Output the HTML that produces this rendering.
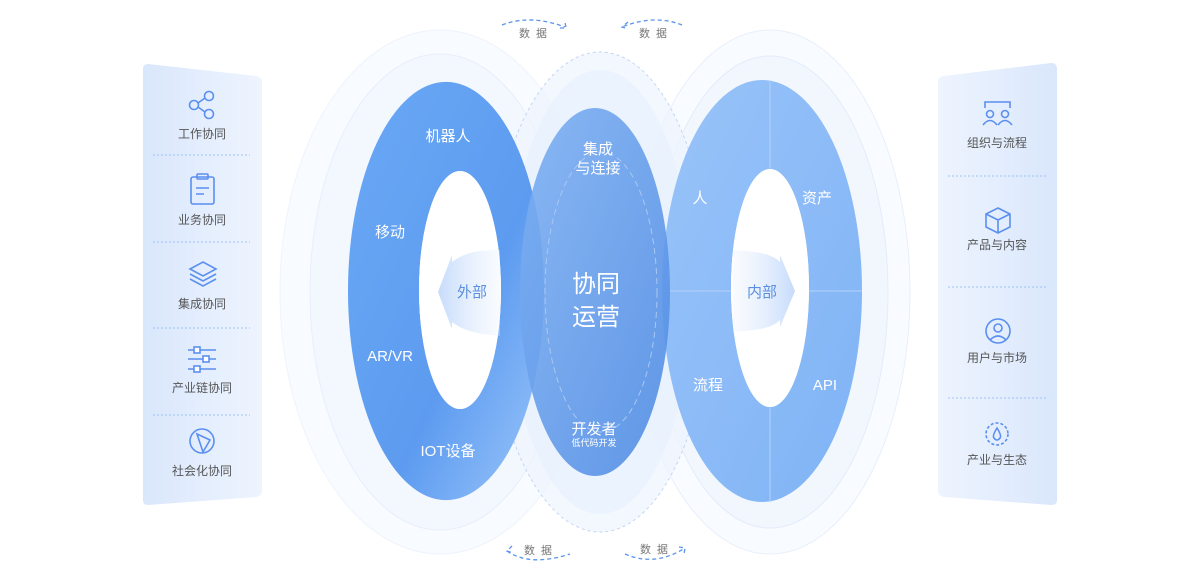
<!DOCTYPE html>
<html><head><meta charset="utf-8"><style>
html,body{margin:0;padding:0;background:#fff;width:1200px;height:577px;overflow:hidden}
svg{display:block}
text{font-family:"Liberation Sans","Noto Sans CJK SC",sans-serif}
</style></head><body>
<svg width="1200" height="577" viewBox="0 0 1200 577" xmlns="http://www.w3.org/2000/svg">
<defs>
<linearGradient id="pl" x1="0" y1="0" x2="1" y2="0"><stop offset="0" stop-color="#d9e7fc"/><stop offset="1" stop-color="#eef4fe"/></linearGradient>
<linearGradient id="pr" x1="0" y1="0" x2="1" y2="0"><stop offset="0" stop-color="#eef4fe"/><stop offset="1" stop-color="#d9e7fc"/></linearGradient>
<linearGradient id="lr" x1="0" y1="0" x2="1" y2="1"><stop offset="0" stop-color="#6aa8f5"/><stop offset="0.6" stop-color="#5d9bf0"/><stop offset="1" stop-color="#9cc7fa"/></linearGradient>
<linearGradient id="rr" x1="0" y1="0" x2="1" y2="1"><stop offset="0" stop-color="#99c3f9"/><stop offset="1" stop-color="#7fb3f5"/></linearGradient>
<linearGradient id="cc" x1="0" y1="0" x2="1" y2="1"><stop offset="0" stop-color="#7fb1f2"/><stop offset="1" stop-color="#4f8be3"/></linearGradient>
<linearGradient id="arL" x1="0" y1="0" x2="1" y2="0"><stop offset="0" stop-color="#c6dbfb"/><stop offset="1" stop-color="#eaf2fe" stop-opacity="0.3"/></linearGradient>
<linearGradient id="arR" x1="0" y1="0" x2="1" y2="0"><stop offset="0" stop-color="#eaf2fe" stop-opacity="0.3"/><stop offset="1" stop-color="#c6dbfb"/></linearGradient>
</defs>
<!-- halos -->
<ellipse cx="440" cy="292" rx="160" ry="262" fill="#f8fbff" stroke="#eef3fc"/>
<ellipse cx="440" cy="292" rx="130" ry="238" fill="#f3f7fe" stroke="#e8effb"/>
<ellipse cx="770" cy="292" rx="140" ry="262" fill="#f8fbff" stroke="#e8effb"/>
<ellipse cx="770" cy="292" rx="118" ry="236" fill="#f2f7fe" stroke="#e4ecfa"/>
<ellipse cx="600" cy="292" rx="110" ry="240" fill="#eef4fe" fill-opacity="0.7" stroke="#c3d6f5" stroke-dasharray="3 3"/>
<ellipse cx="600" cy="292" rx="92" ry="222" fill="#e9f1fe" fill-opacity="0.8"/>
<!-- left ring -->
<path fill-rule="evenodd" fill="url(#lr)" d="M348,291 a98,209 0 1,0 196,0 a98,209 0 1,0 -196,0 Z M419,290 a41,119 0 1,1 82,0 a41,119 0 1,1 -82,0 Z"/>
<ellipse cx="460" cy="290" rx="41" ry="119" fill="#fff"/>
<!-- right ring -->
<path fill-rule="evenodd" fill="url(#rr)" d="M662,291 a100,211 0 1,0 200,0 a100,211 0 1,0 -200,0 Z M731,288 a39,119 0 1,1 78,0 a39,119 0 1,1 -78,0 Z"/>
<ellipse cx="770" cy="288" rx="39" ry="119" fill="#fff"/>
<line x1="770" y1="80" x2="770" y2="169" stroke="#b3d2fa" stroke-width="1"/>
<line x1="770" y1="407" x2="770" y2="502" stroke="#b3d2fa" stroke-width="1"/>
<line x1="662" y1="291" x2="731" y2="291" stroke="#b3d2fa"/>
<line x1="809" y1="291" x2="862" y2="291" stroke="#b3d2fa"/>
<!-- center -->
<ellipse cx="595" cy="292" rx="75" ry="184" fill="url(#cc)" opacity="0.9"/>
<ellipse cx="601" cy="292" rx="56" ry="140" fill="none" stroke="#a9c8f4" stroke-dasharray="6 4"/>
<!-- arrows -->
<path d="M500,250 C480,250 465,252 452,262 L452,255 L438,292 L452,329 L452,322 C465,332 480,334 500,336 Z" fill="url(#arL)"/>
<path d="M733,250 C760,252 772,254 780,262 L780,255 L795,291 L780,327 L780,320 C772,328 760,330 733,332 Z" fill="url(#arR)"/>
<!-- ring labels -->
<g fill="#fff" font-size="15" text-anchor="middle">
<text x="448" y="141">机器人</text>
<text x="390" y="237">移动</text>
<text x="390" y="361">AR/VR</text>
<text x="448" y="456">IOT设备</text>
<text x="598" y="154">集成</text>
<text x="598" y="173">与连接</text>
<text x="594" y="434">开发者</text>
<text x="594" y="446" font-size="9">低代码开发</text>
<text x="700" y="203">人</text>
<text x="817" y="203">资产</text>
<text x="708" y="390">流程</text>
<text x="825" y="390">API</text>
<text x="596" y="292" font-size="24">协同</text>
<text x="596" y="325" font-size="24">运营</text>
</g>
<text x="472" y="297" font-size="15" fill="#5a8fe0" text-anchor="middle">外部</text>
<text x="762" y="297" font-size="15" fill="#5a8fe0" text-anchor="middle">内部</text>
<!-- data labels -->
<g font-size="11" fill="#777" text-anchor="middle" letter-spacing="6">
<text x="536" y="37">数据</text><text x="656" y="37">数据</text>
<text x="541" y="554">数据</text><text x="657" y="553">数据</text>
</g>
<g fill="none" stroke="#5a94ec" stroke-width="1.3" stroke-dasharray="4 3">
<path d="M502,25 Q530,14 565,27"/><path d="M560,28 L566,28 L565,22"/>
<path d="M682,25 Q655,14 622,27"/><path d="M628,22 L622,27 L628,29"/>
<path d="M507,551 Q530,567 570,554"/><path d="M512,546 L507,551 L513,553"/>
<path d="M625,554 Q655,567 685,548"/><path d="M679,547 L685,548 L684,554"/>
</g>
<!-- left panel -->
<path d="M148,64 L256,76 Q262,77 262,83 L262,490 Q262,496 256,497 L148,505 Q143,505 143,500 L143,69 Q143,64 148,64 Z" fill="url(#pl)"/>
<g stroke="#9cc2f5" stroke-dasharray="2 2"><line x1="153" y1="155" x2="250" y2="155"/><line x1="153" y1="242" x2="250" y2="242"/><line x1="153" y1="328" x2="250" y2="328"/><line x1="153" y1="415" x2="250" y2="415"/></g>
<g font-size="12" fill="#555" text-anchor="middle">
<text x="202" y="138">工作协同</text><text x="202" y="224">业务协同</text><text x="202" y="308">集成协同</text><text x="202" y="392">产业链协同</text><text x="202" y="475">社会化协同</text>
</g>
<g fill="none" stroke="#5b8ff0" stroke-width="1.6">
<circle cx="209" cy="96" r="4.5"/><circle cx="194" cy="105" r="4.5"/><circle cx="209" cy="114" r="4.5"/><path d="M198,103 L205,98 M198,107 L205,112"/>
<rect x="191" y="177" width="23" height="27" rx="2"/><rect x="197" y="174" width="11" height="5" rx="1"/><path d="M196,188 H209 M196,194 H204"/>
<path d="M190,269 L203,262 L216,269 L203,276 Z"/><path d="M190,274 L203,281 L216,274"/><path d="M190,279 L203,286 L216,279"/>
<path d="M188,350 H216 M188,359 H216 M188,369 H216"/><rect x="194" y="347" width="6" height="6" fill="#fff"/><rect x="203" y="356" width="6" height="6" fill="#fff"/><rect x="194" y="366" width="6" height="6" fill="#fff"/>
<circle cx="202" cy="441" r="12"/><path d="M197,434 L210,440 L203,452 Z"/>
</g>
<!-- right panel -->
<path d="M944,76 L1051,63 Q1057,63 1057,69 L1057,500 Q1057,505 1051,505 L944,497 Q938,496 938,490 L938,82 Q938,77 944,76 Z" fill="url(#pr)"/>
<g stroke="#9cc2f5" stroke-dasharray="2 2"><line x1="948" y1="176" x2="1046" y2="176"/><line x1="948" y1="287" x2="1046" y2="287"/><line x1="948" y1="398" x2="1046" y2="398"/></g>
<g font-size="12" fill="#555" text-anchor="middle">
<text x="997" y="147">组织与流程</text><text x="997" y="249">产品与内容</text><text x="997" y="362">用户与市场</text><text x="997" y="464">产业与生态</text>
</g>
<g fill="none" stroke="#5b8ff0" stroke-width="1.6">
<path d="M985,108 V102 H1010 V108"/><circle cx="990" cy="114" r="3.5"/><circle cx="1005" cy="114" r="3.5"/><path d="M983,125 Q990,116 997,125 M998,125 Q1005,116 1012,125"/>
<path d="M998,208 L1010,214 V227 L998,233 L986,227 V214 Z M986,214 L998,220 L1010,214 M998,220 V233"/>
<circle cx="998" cy="331" r="12"/><circle cx="998" cy="328" r="4"/><path d="M990,340 Q998,332 1006,340"/>
<circle cx="997" cy="434" r="11" stroke-dasharray="3 2"/><path d="M997,428 Q992,436 994,438 Q997,442 1000,438 Q1002,436 997,428 Z"/>
</g>
</svg>
</body></html>
